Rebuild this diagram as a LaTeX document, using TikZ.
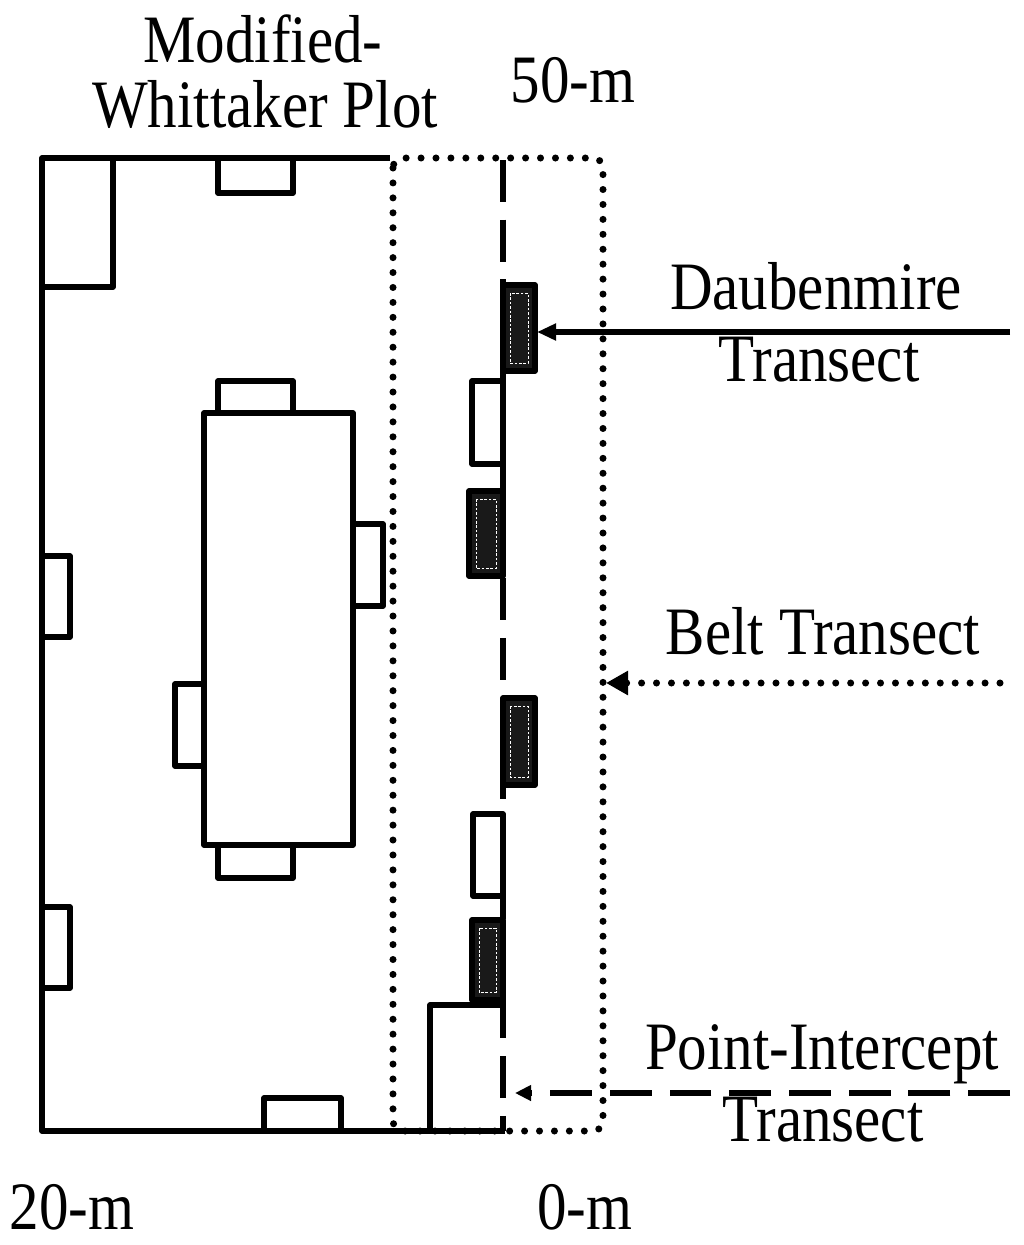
\documentclass[tikz,border=0pt]{standalone}
\usepackage{fontspec}
\setmainfont{Liberation Serif}
\newfontfamily\labelfont[FakeStretch=0.87]{Liberation Serif}
\usetikzlibrary{arrows.meta}
\definecolor{boxFill}{RGB}{25, 25, 25}

\tikzset{
  plotline/.style={line width=3pt, line join=round},
  beltline/.style={line width=4pt, line cap=round, dash pattern=on 0pt off 8.5pt},
  pointline/.style={line width=3pt, dash pattern=on 23.8pt off 10.2pt},
  daubbox/.style={plotline, fill=boxFill},
  daubinner/.style={white, line width=0.5pt, dash pattern=on 1.5pt off 1pt},
  lbl/.style={font=\labelfont\fontsize{38.6}{37.4}\selectfont, anchor=base, inner sep=0pt},
}

\begin{document}
\begin{tikzpicture}[x=0.02cm, y=-0.02cm]
  \useasboundingbox (0,0) rectangle (1024,1245);

  % point-intercept transect and belt
  \draw[pointline] (503,160) -- (503,1131);
  \draw[beltline, rounded corners=0.2cm] (393,158) rectangle (603,1131);

  % modified-whittaker plot
  \draw[plotline] (390,158) -- (42,158) -- (42,1131) -- (505,1131);
  \draw[plotline] (42,287) -- (113,287) -- (113,158);
  \draw[plotline] (218,158) rectangle (293,193);
  \draw[plotline] (204,413) rectangle (353,845);
  \draw[plotline] (218,381) rectangle (293,413);
  \draw[plotline] (353,524) rectangle (383,606);
  \draw[plotline] (175,684) rectangle (204,766);
  \draw[plotline] (218,845) rectangle (293,878);
  \draw[plotline] (42,556) rectangle (70,637);
  \draw[plotline] (42,907) rectangle (70,988);
  \draw[plotline] (264,1098) rectangle (341,1131);
  \draw[plotline] (430,1131) -- (430,1005) -- (503,1005);

  % quadrats on the transect
  \draw[plotline] (472,381) rectangle (503,464);
  \draw[plotline] (473,814) rectangle (503,896);
  \foreach \xa/\ya/\xb/\yb in {503/285/535/371, 469/491/503/576, 503/698/535/785, 472/920/503/1000}{
    \draw[daubbox] (\xa,\ya) rectangle (\xb,\yb);
    \draw[daubinner] (\xa+7,\ya+8) rectangle (\xb-7,\yb-8);
  }

  % labels
  \node[lbl] (modified) at (263,62) {Modified-};
  \node[lbl] (whittaker) at (265,127) {Whittaker Plot};
  \node[lbl] (top) at (573,102) {50-m};
  \node[lbl] (daubenmire) at (816,309) {Daubenmire};
  \node[lbl] (dtransect) at (819,381) {Transect};
  \node[lbl] (belt) at (823,654) {Belt Transect};
  \node[lbl] (point) at (822,1069) {Point-Intercept};
  \node[lbl] (ptransect) at (823,1141) {Transect};
  \node[lbl] (far) at (72,1229) {20-m};
  \node[lbl] (near) at (585,1229) {0-m};

  % arrows
  \coordinate (dStart) at (1010,332);
  \coordinate (dEnd) at (537,332);
  \coordinate (bStart) at (1000,683);
  \coordinate (bEnd) at (606,683);
  \coordinate (pStart) at (1010,1093);
  \coordinate (pEnd) at (515,1093);
  \draw[plotline, -{Triangle[length=0.38cm, width=0.32cm]}] (dStart) -- (dEnd);
  \draw[beltline, -{Triangle[length=0.44cm, width=0.46cm]}] (bStart) -- (bEnd);
  \draw[pointline, -{Triangle[length=0.32cm, width=0.3cm]}] (pStart) -- (pEnd);
\end{tikzpicture}
\end{document}
